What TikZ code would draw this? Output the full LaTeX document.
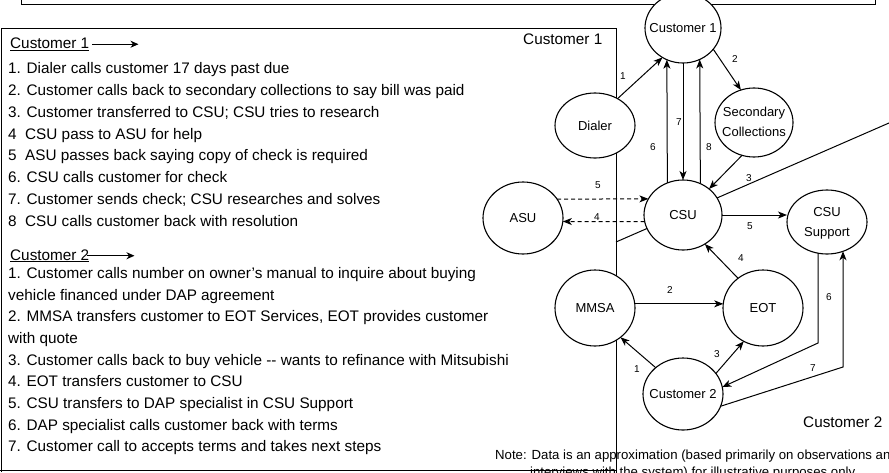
\documentclass[tikz,border=0pt]{standalone}
\usepackage{fontspec}
\setmainfont{Liberation Sans}
\usetikzlibrary{arrows.meta,shapes.geometric}

\begin{document}
\begin{tikzpicture}[x=1pt,y=-1pt,
  state/.style={ellipse,draw,line width=1.1pt,fill=white,inner sep=0pt,outer sep=0pt,
    font=\fontsize{13}{20}\selectfont},
  arr/.style={-{Stealth[length=9pt,width=7pt,inset=2.5pt]},line width=1pt},
  hdarr/.style={-{Stealth[length=8pt,width=7pt,inset=2.5pt]},line width=0.9pt},
  dashline/.style={dash pattern=on 4pt off 3pt},
  frame/.style={line width=1pt},
  lab/.style={font=\fontsize{10}{12}\selectfont,inner sep=0pt},
  item/.style={anchor=base west,inner sep=0pt,font=\fontsize{15.3}{18}\selectfont},
  region/.style={anchor=base west,inner sep=0pt,font=\fontsize{15.3}{18}\selectfont},
  note/.style={anchor=base west,inner sep=0pt,font=\fontsize{13.2}{15}\selectfont},
]
\useasboundingbox (0,0) rectangle (889,472);

% frames and region dividers
\draw[frame] (21,-5) -- (21,4) -- (875,4) -- (875,-5);
\draw[frame] (1,472) -- (1,28.5) -- (616,28.5) -- (616,480);
\draw[frame] (0,470) -- (616,470);
\draw[frame] (616,242) -- (950,96.4);

% step lists
\node[item] (h1) at (10,48.5) {\underline{Customer 1}};
\draw[hdarr] (h1.east) ++(3,0) -- ++(46,0);
\node[item] (a1) at (8,73.3)  {1. Dialer calls customer 17 days past due};
\node[item] (a2) at (8,95.2)  {2. Customer calls back to secondary collections to say bill was paid};
\node[item] (a3) at (8,117.1) {3. Customer transferred to CSU; CSU tries to research};
\node[item] (a4) at (8,139)   {4\ \ CSU pass to ASU for help};
\node[item] (a5) at (8,160.9) {5\ \ ASU passes back saying copy of check is required};
\node[item] (a6) at (8,182.8) {6. CSU calls customer for check};
\node[item] (a7) at (8,204.7) {7. Customer sends check; CSU researches and solves};
\node[item] (a8) at (8,226.6) {8\ \ CSU calls customer back with resolution};

\node[item] (h2) at (10,260) {\underline{Customer 2}};
\draw[hdarr] (h2.east) ++(-2,0) -- ++(47,0);
\node[item] (b1)  at (8,278.3) {1. Customer calls number on owner's manual to inquire about buying};
\node[item] (b1x) at (8,300)   {vehicle financed under DAP agreement};
\node[item] (b2)  at (8,321.7) {2. MMSA transfers customer to EOT Services, EOT provides customer};
\node[item] (b2x) at (8,343.4) {with quote};
\node[item] (b3)  at (8,365.1) {3. Customer calls back to buy vehicle -{}- wants to refinance with Mitsubishi};
\node[item] (b4)  at (8,386.8) {4. EOT transfers customer to CSU};
\node[item] (b5)  at (8,408.5) {5. CSU transfers to DAP specialist in CSU Support};
\node[item] (b6)  at (8,430.2) {6. DAP specialist calls customer back with terms};
\node[item] (b7)  at (8,451.9) {7. Customer call to accepts terms and takes next steps};

% region names and note
\node[region] (r1) at (523,44) {Customer 1};
\node[region] (r2) at (803,427) {Customer 2};
\node[note] (n1) at (495,459.5) {Note: Data is an approximation (based primarily on observations and};
\node[note] (n2) at (530,476) {interviews with the system) for illustrative purposes only};

% parties
\node[state,minimum width=76pt,minimum height=70pt] (c1) at (683,28) {\makebox[0pt]{Customer 1}};
\node[state,minimum width=80pt,minimum height=65pt] (dialer) at (595,125.5) {\makebox[0pt]{Dialer}};
\node[state,minimum width=78pt,minimum height=69pt] (sec) at (754,122.5)
  {\makebox[0pt]{\begin{tabular}{@{}c@{}}Secondary\\Collections\end{tabular}}};
\node[state,minimum width=78pt,minimum height=70pt] (csu) at (683,215) {\makebox[0pt]{CSU}};
\node[state,minimum width=80pt,minimum height=72pt] (asu) at (523,218) {\makebox[0pt]{ASU}};
\node[state,minimum width=80pt,minimum height=64pt] (csus) at (827,222)
  {\makebox[0pt]{\begin{tabular}{@{}c@{}}CSU\\Support\end{tabular}}};
\node[state,minimum width=80pt,minimum height=76pt] (mmsa) at (595,308) {\makebox[0pt]{MMSA}};
\node[state,minimum width=80pt,minimum height=76pt] (eot) at (763,308) {\makebox[0pt]{EOT}};
\node[state,minimum width=80pt,minimum height=72pt] (c2) at (683,394) {\makebox[0pt]{Customer 2}};

% customer 1 flow
\draw[arr] (dialer.50) -- (c1.235);
\draw[arr] (c1.-35) -- (sec.112);
\draw[arr] (c1.south) -- (csu.north);
\draw[arr] (csu.116.6) -- (c1.243.2);
\draw[arr] (csu.61.6) -- (c1.298.5);
\draw[arr] (sec.250) -- (csu.45);
\draw[arr,dashline] (asu.29) -- (csu.155);
\draw[arr,dashline] (csu.190) -- (asu.-5);
\draw[arr] (csu.east) -- (csu.east -| csus.west);

% customer 2 flow
\coordinate (k6) at (818,343);
\coordinate (k7) at (843,367);
\draw[arr] (c2.136) -- (mmsa.-49);
\draw[arr] (mmsa.6) -- (eot.174);
\draw[arr] (c2.32) -- (eot.240);
\draw[arr] (eot.130) -- (csu.307);
\draw[arr] (k6 |- csus.253) -- (k6) -- (c2.10);
\draw[arr] (c2.-18) -- (k7) -- (k7 |- csus.-61);

% step numbers
\node[lab] (s1) at (623,76) {1};
\node[lab] (s2) at (735,59) {2};
\node[lab] (s7) at (679,122) {7};
\node[lab] (s6) at (653,147) {6};
\node[lab] (s8) at (709,147) {8};
\node[lab] (s3) at (749,178) {3};
\node[lab] (s5a) at (598,185) {5};
\node[lab] (s4a) at (597,217) {4};
\node[lab] (s5b) at (750,226) {5};
\node[lab] (t4) at (741,258) {4};
\node[lab] (t2) at (670,290) {2};
\node[lab] (t6) at (829,297) {6};
\node[lab] (t3) at (717,354) {3};
\node[lab] (t1) at (637,369) {1};
\node[lab] (t7) at (813,368) {7};
\end{tikzpicture}
\end{document}
